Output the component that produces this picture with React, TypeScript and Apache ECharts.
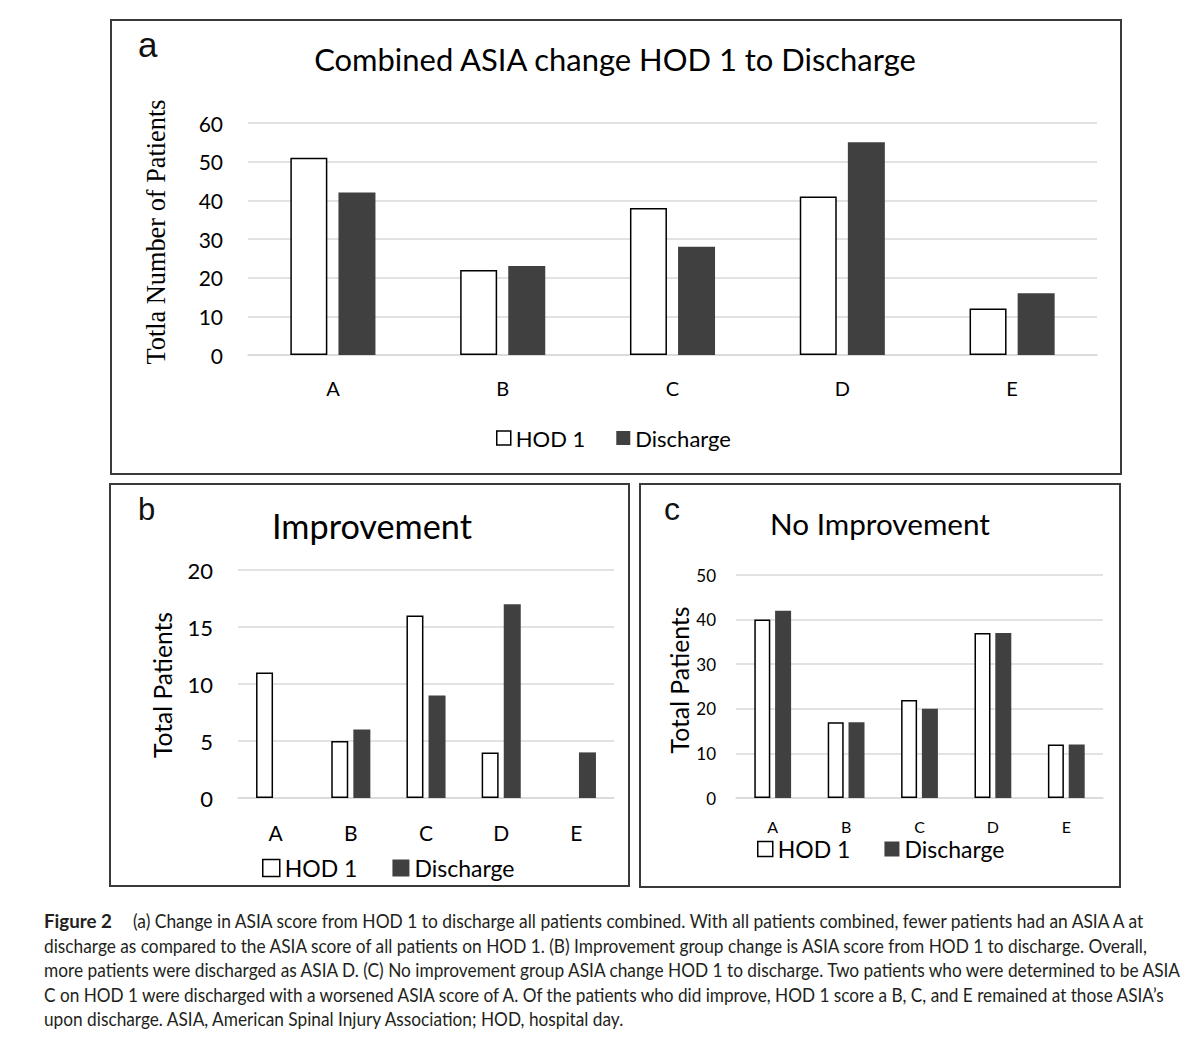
import React, { useEffect, useRef } from "react";
import * as echarts from "echarts";

// ---------- data ----------
const categories = ["A", "B", "C", "D", "E"];
const seriesNames = ["HOD 1", "Discharge"];

const combinedHod1 = [51, 22, 38, 41, 12];
const combinedDischarge = [42, 23, 28, 55, 16];

const improvementHod1 = [11, 5, 16, 4, 0];
const improvementDischarge = [0, 6, 9, 17, 4];

const noImprovementHod1 = [40, 17, 22, 37, 12];
const noImprovementDischarge = [42, 17, 20, 37, 12];

const panelLetters = ["a", "b", "c"];
const panelTitles = [
  "Combined ASIA change HOD 1 to Discharge",
  "Improvement",
  "No Improvement",
];
const yAxisNames = ["Totla Number of Patients", "Total Patients", "Total Patients"];
const yMax = [60, 20, 50];
const yInterval = [10, 5, 10];

const captionLead = "Figure 2";
const captionLines = [
  "(a) Change in ASIA score from HOD 1 to discharge all patients combined. With all patients combined, fewer patients had an ASIA A at",
  "discharge as compared to the ASIA score of all patients on HOD 1. (B) Improvement group change is ASIA score from HOD 1 to discharge. Overall,",
  "more patients were discharged as ASIA D. (C) No improvement group ASIA change HOD 1 to discharge. Two patients who were determined to be ASIA",
  "C on HOD 1 were discharged with a worsened ASIA score of A. Of the patients who did improve, HOD 1 score a B, C, and E remained at those ASIA\u2019s",
  "upon discharge. ASIA, American Spinal Injury Association; HOD, hospital day.",
];

// ---------- layout ----------
const SANS = "Lato";
const SERIF = "'Liberation Serif'";
const HOD_STYLE = { color: "#ffffff", borderColor: "#000000", borderWidth: 1.5 };
const DIS_STYLE = { color: "#404040" };
const GRID_COLOR = "#d9d9d9";

const panels = [
  {
    border: { x: 111, y: 20, width: 1010, height: 454 },
    letter: { x: 138, y: 44, size: 35 },
    title: { cx: 615, cy: 59, width: 604 },
    yName: { cx: 156, cy: 232, length: 265, family: SERIF },
    grid: { left: 248, top: 123, width: 849, height: 232 },
    yLabel: { size: 21, margin: 25 },
    xLabel: { size: 20, margin: 23 },
    bar: { width: 37, gap: "30%" },
    legend: { left: 496, cy: 438, icon: 14, size: 22, gap: 31 },
  },
  {
    border: { x: 110, y: 484, width: 519, height: 402 },
    letter: { x: 138, y: 509, size: 31 },
    title: { cx: 372, cy: 525, width: 200 },
    yName: { cx: 162, cy: 685, length: 146, family: SANS },
    grid: { left: 238, top: 570, width: 376, height: 228 },
    yLabel: { size: 22, margin: 25 },
    xLabel: { size: 21, margin: 24 },
    bar: { width: 17, gap: "30%" },
    legend: { left: 262, cy: 868, icon: 17, size: 23, gap: 35 },
  },
  {
    border: { x: 640, y: 484, width: 480, height: 403 },
    letter: { x: 664, y: 509, size: 32 },
    title: { cx: 880, cy: 523, width: 220 },
    yName: { cx: 679, cy: 680, length: 147, family: SANS },
    grid: { left: 736, top: 575, width: 367, height: 223 },
    yLabel: { size: 17, margin: 20 },
    xLabel: { size: 16, margin: 20 },
    bar: { width: 16, gap: "30%" },
    legend: { left: 757, cy: 849, icon: 15, size: 23, gap: 34 },
  },
];

const captionLayout = {
  leadX: 44,
  leadEnd: 112,
  lineX: [133, 44, 44, 44, 44],
  lineEnd: [1148, 1150, 1186, 1168, 626],
  lineY: [921, 945.5, 970, 994.5, 1019],
  size: 18.5,
  color: "#231f20",
};

// ---------- helpers ----------
let measureCtx: CanvasRenderingContext2D | null = null;
function textWidth(text: string, font: string): number {
  if (!measureCtx) measureCtx = document.createElement("canvas").getContext("2d");
  if (!measureCtx) return text.length * 8;
  measureCtx.font = font;
  return measureCtx.measureText(text).width;
}
function fitSize(text: string, family: string, weight: string, target: number): number {
  const base = 100;
  const w = textWidth(text, `${weight} ${base}px ${family}`);
  return w > 0 ? (base * target) / w : 20;
}

function barData(values: number[], isHod: boolean) {
  return values.map((v) =>
    v === 0 && isHod ? { value: v, itemStyle: { borderWidth: 0 } } : v
  );
}

export default function App() {
  const ref = useRef<HTMLDivElement>(null);

  useEffect(() => {
    if (!ref.current) return;
    const chart = echarts.init(ref.current, undefined, { renderer: "svg" });

    const dataSets = [
      [combinedHod1, combinedDischarge],
      [improvementHod1, improvementDischarge],
      [noImprovementHod1, noImprovementDischarge],
    ];

    const graphics: any[] = [];
    panels.forEach((p, i) => {
      graphics.push({
        type: "rect",
        silent: true,
        shape: { ...p.border },
        style: { fill: "none", stroke: "#3a3a3a", lineWidth: 2 },
      });
      graphics.push({
        type: "text",
        x: p.letter.x,
        y: p.letter.y,
        style: {
          text: panelLetters[i],
          font: `normal ${p.letter.size}px 'Liberation Sans'`,
          fill: "#111",
          align: "left",
          verticalAlign: "middle",
        },
      });
      const tSize = fitSize(panelTitles[i], SANS, "normal", p.title.width);
      graphics.push({
        type: "text",
        x: p.title.cx,
        y: p.title.cy,
        style: {
          text: panelTitles[i],
          font: `normal ${tSize}px ${SANS}`,
          fill: "#000",
          align: "center",
          verticalAlign: "middle",
        },
      });
      const nSize = fitSize(yAxisNames[i], p.yName.family, "normal", p.yName.length);
      graphics.push({
        type: "text",
        x: p.yName.cx,
        y: p.yName.cy,
        rotation: Math.PI / 2,
        style: {
          text: yAxisNames[i],
          font: `normal ${nSize}px ${p.yName.family}`,
          fill: "#000",
          align: "center",
          verticalAlign: "middle",
        },
      });
    });

    // caption
    const leadFont = `bold ${captionLayout.size}px ${SANS}`;
    const leadW = textWidth(captionLead, leadFont);
    graphics.push({
      type: "text",
      x: captionLayout.leadX,
      y: captionLayout.lineY[0],
      scaleX: leadW > 0 ? (captionLayout.leadEnd - captionLayout.leadX) / leadW : 1,
      style: {
        text: captionLead,
        font: leadFont,
        fill: captionLayout.color,
        align: "left",
        verticalAlign: "middle",
      },
    });
    captionLines.forEach((line, i) => {
      const font = `normal ${captionLayout.size}px ${SANS}`;
      const w = textWidth(line, font);
      const target = captionLayout.lineEnd[i] - captionLayout.lineX[i];
      const sx = w > 0 ? target / w : 1;
      graphics.push({
        type: "text",
        x: captionLayout.lineX[i],
        y: captionLayout.lineY[i],
        scaleX: sx,
        style: {
          text: line,
          font,
          fill: captionLayout.color,
          align: "left",
          verticalAlign: "middle",
        },
      });
    });

    const option: any = {
      animation: false,
      backgroundColor: "#ffffff",
      grid: panels.map((p) => ({
        left: p.grid.left,
        top: p.grid.top,
        width: p.grid.width,
        height: p.grid.height,
        containLabel: false,
      })),
      xAxis: panels.map((p, i) => ({
        type: "category",
        gridIndex: i,
        data: categories,
        axisLine: { show: true, lineStyle: { color: GRID_COLOR, width: 1.5 } },
        axisTick: { show: false },
        axisLabel: {
          color: "#000",
          fontFamily: SANS,
          fontSize: p.xLabel.size,
          margin: p.xLabel.margin,
        },
      })),
      yAxis: panels.map((p, i) => ({
        type: "value",
        gridIndex: i,
        min: 0,
        max: yMax[i],
        interval: yInterval[i],
        axisLine: { show: false },
        axisTick: { show: false },
        splitLine: { show: true, lineStyle: { color: GRID_COLOR, width: 1.5 } },
        axisLabel: {
          color: "#000",
          fontFamily: SANS,
          fontSize: p.yLabel.size,
          margin: p.yLabel.margin,
        },
      })),
      legend: panels.map((p) => ({
        left: p.legend.left,
        top: p.legend.cy - p.legend.size / 2,
        orient: "horizontal",
        padding: 0,
        itemWidth: p.legend.icon,
        itemHeight: p.legend.icon,
        itemGap: p.legend.gap,
        selectedMode: false,
        icon: "rect",
        textStyle: { color: "#000", fontFamily: SANS, fontSize: p.legend.size, lineHeight: p.legend.size },
        data: [
          { name: seriesNames[0], itemStyle: { ...HOD_STYLE } },
          { name: seriesNames[1], itemStyle: { ...DIS_STYLE } },
        ],
      })),
      series: panels.flatMap((p, i) => [
        {
          name: seriesNames[0],
          type: "bar",
          xAxisIndex: i,
          yAxisIndex: i,
          barWidth: p.bar.width,
          barGap: p.bar.gap,
          itemStyle: { ...HOD_STYLE },
          data: barData(dataSets[i][0], true),
        },
        {
          name: seriesNames[1],
          type: "bar",
          xAxisIndex: i,
          yAxisIndex: i,
          barWidth: p.bar.width,
          barGap: p.bar.gap,
          itemStyle: { ...DIS_STYLE },
          data: barData(dataSets[i][1], false),
        },
      ]),
      graphic: { elements: graphics },
    };

    chart.setOption(option);
    return () => chart.dispose();
  }, []);

  return (
    <div
      ref={ref}
      style={{ position: "absolute", left: 0, top: 0, width: 1200, height: 1057 }}
    />
  );
}
